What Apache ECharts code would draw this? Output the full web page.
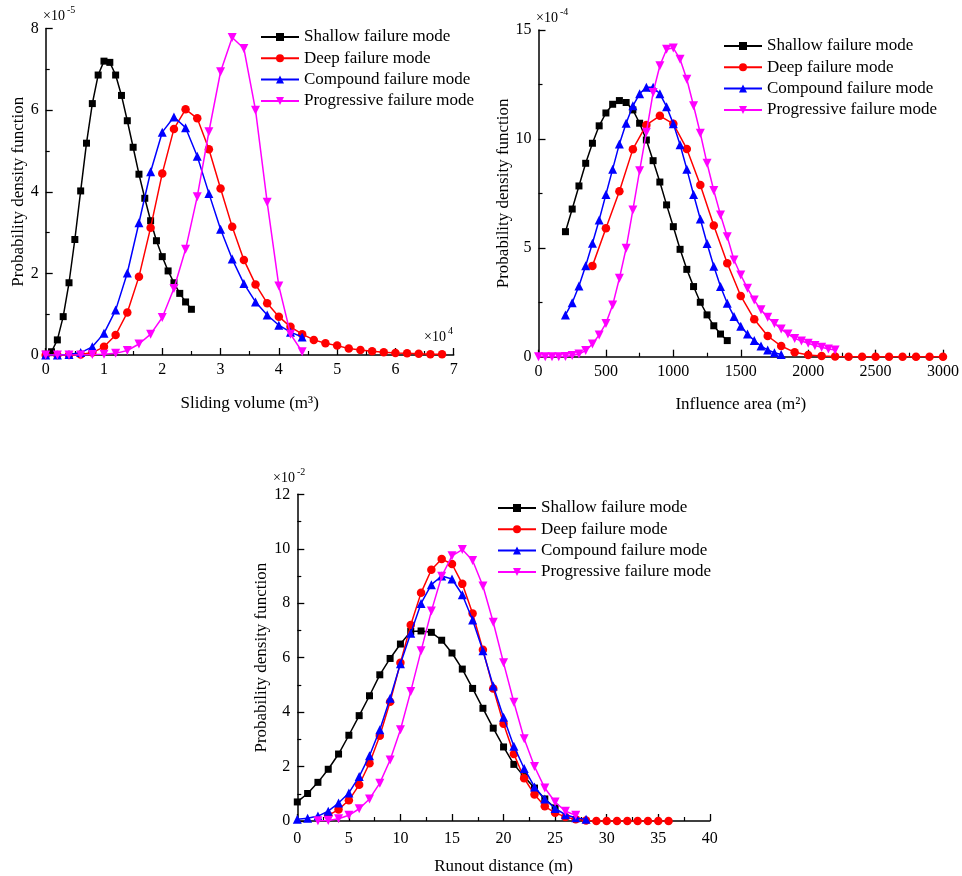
<!DOCTYPE html>
<html><head><meta charset="utf-8">
<script src="https://cdn.jsdelivr.net/npm/echarts@6/dist/echarts.min.js"></script>
<style>html,body{margin:0;padding:0;background:#fff}#c{width:962px;height:876px}</style>
</head><body><div id="c"></div>
<script>
// ---------- Names ----------
const seriesNames = ['Shallow failure mode','Deep failure mode','Compound failure mode','Progressive failure mode'];

// ---------- Plot 1: Sliding volume (x in 1e4 m3, y in 1e-5) ----------
const volXTicks = [0,1,2,3,4,5,6,7];
const volYTicks = [0,2,4,6,8];
const volShallowX = [0,0.1,0.2,0.3,0.4,0.5,0.6,0.7,0.8,0.9,1.0,1.1,1.2,1.3,1.4,1.5,1.6,1.7,1.8,1.9,2.0,2.1,2.2,2.3,2.4,2.5];
const volShallowY = [0.02,0.08,0.37,0.94,1.77,2.83,4.02,5.19,6.16,6.86,7.20,7.17,6.86,6.36,5.74,5.09,4.43,3.84,3.29,2.80,2.41,2.06,1.77,1.51,1.30,1.12];
const volDeepX = [0,0.2,0.4,0.6,0.8,1.0,1.2,1.4,1.6,1.8,2.0,2.2,2.4,2.6,2.8,3.0,3.2,3.4,3.6,3.8,4.0,4.2,4.4,4.6,4.8,5.0,5.2,5.4,5.6,5.8,6.0,6.2,6.4,6.6,6.8];
const volDeepY = [0,0,0,0.01,0.06,0.20,0.49,1.04,1.92,3.12,4.45,5.54,6.02,5.80,5.04,4.08,3.14,2.33,1.73,1.27,0.94,0.69,0.51,0.37,0.29,0.23,0.16,0.12,0.09,0.07,0.05,0.04,0.03,0.02,0.02];
const volCompX = [0,0.2,0.4,0.6,0.8,1.0,1.2,1.4,1.6,1.8,2.0,2.2,2.4,2.6,2.8,3.0,3.2,3.4,3.6,3.8,4.0,4.2,4.4];
const volCompY = [0,0,0.01,0.06,0.20,0.53,1.10,2.01,3.24,4.49,5.46,5.83,5.57,4.87,3.96,3.08,2.35,1.75,1.30,0.98,0.73,0.56,0.44];
const volProgX = [0,0.2,0.4,0.6,0.8,1.0,1.2,1.4,1.6,1.8,2.0,2.2,2.4,2.6,2.8,3.0,3.2,3.4,3.6,3.8,4.0,4.2,4.4];
const volProgY = [0,0,0,0,0.01,0.02,0.04,0.11,0.27,0.51,0.92,1.63,2.59,3.88,5.47,6.94,7.78,7.51,6.00,3.74,1.69,0.51,0.08];

// ---------- Plot 2: Influence area (x in m2, y in 1e-4) ----------
const areaXTicks = [0,500,1000,1500,2000,2500,3000];
const areaYTicks = [0,5,10,15];
const areaShallowX = [200,250,300,350,400,450,500,550,600,650,700,750,800,850,900,950,1000,1050,1100,1150,1200,1250,1300,1350,1400];
const areaShallowY = [5.74,6.78,7.84,8.88,9.80,10.60,11.19,11.59,11.76,11.67,11.33,10.72,9.95,9.00,8.02,6.97,5.97,4.93,4.01,3.22,2.50,1.92,1.42,1.04,0.74];
const areaDeepX = [400,500,600,700,800,900,1000,1100,1200,1300,1400,1500,1600,1700,1800,1900,2000,2100,2200,2300,2400,2500,2600,2700,2800,2900,3000];
const areaDeepY = [4.17,5.90,7.60,9.53,10.64,11.06,10.69,9.54,7.88,6.02,4.29,2.79,1.72,0.95,0.49,0.20,0.08,0.03,0.01,0,0,0,0,0,0,0,0];
const areaCompX = [200,250,300,350,400,450,500,550,600,650,700,750,800,850,900,950,1000,1050,1100,1150,1200,1250,1300,1350,1400,1450,1500,1550,1600,1650,1700,1750,1800];
const areaCompY = [1.92,2.48,3.25,4.18,5.21,6.28,7.45,8.61,9.77,10.72,11.52,12.07,12.37,12.37,12.07,11.48,10.69,9.73,8.61,7.45,6.32,5.20,4.15,3.22,2.45,1.85,1.40,1.04,0.74,0.49,0.31,0.18,0.10];
const areaProgX = [0,50,100,150,200,250,300,350,400,450,500,550,600,650,700,750,800,850,900,950,1000,1050,1100,1150,1200,1250,1300,1350,1400,1450,1500,1550,1600,1650,1700,1750,1800,1850,1900,1950,2000,2050,2100,2150,2200];
const areaProgY = [0,0,0,0,0.01,0.05,0.12,0.28,0.58,1.00,1.53,2.37,3.60,4.98,6.74,8.54,10.30,12.13,13.36,14.12,14.17,13.66,12.74,11.52,10.26,8.88,7.63,6.51,5.51,4.44,3.75,3.14,2.60,2.15,1.81,1.53,1.27,1.04,0.84,0.72,0.62,0.51,0.43,0.35,0.31];

// ---------- Plot 3: Runout distance (x in m, y in 1e-2) ----------
const runXTicks = [0,5,10,15,20,25,30,35,40];
const runYTicks = [0,2,4,6,8,10,12];
const runShallowX = [0,1,2,3,4,5,6,7,8,9,10,11,12,13,14,15,16,17,18,19,20,21,22,23,24,25];
const runShallowY = [0.70,1.01,1.42,1.90,2.46,3.15,3.87,4.60,5.37,5.97,6.50,6.96,6.98,6.93,6.64,6.17,5.58,4.87,4.14,3.41,2.72,2.08,1.63,1.21,0.81,0.48];
const runDeepX = [3,4,5,6,7,8,9,10,11,12,13,14,15,16,17,18,19,20,21,22,23,24,25,26,27,28,29,30,31,32,33,34,35,36];
const runDeepY = [0.21,0.42,0.76,1.33,2.12,3.13,4.38,5.81,7.20,8.38,9.23,9.62,9.44,8.71,7.62,6.29,4.87,3.57,2.46,1.57,0.97,0.54,0.30,0.15,0.06,0.02,0,0,0,0,0,0,0,0];
const runCompX = [0,1,2,3,4,5,6,7,8,9,10,11,12,13,14,15,16,17,18,19,20,21,22,23,24,25,26,27,28];
const runCompY = [0.06,0.10,0.18,0.36,0.66,1.03,1.63,2.40,3.35,4.51,5.78,6.90,7.99,8.68,9.00,8.89,8.31,7.38,6.25,4.96,3.81,2.75,1.93,1.25,0.81,0.46,0.23,0.12,0.06];
const runProgX = [2,3,4,5,6,7,8,9,10,11,12,13,14,15,16,17,18,19,20,21,22,23,24,25,26,27];
const runProgY = [0.01,0.02,0.08,0.21,0.45,0.81,1.39,2.24,3.35,4.76,6.25,7.71,8.99,9.74,9.97,9.57,8.63,7.30,5.81,4.36,3.02,2.00,1.21,0.70,0.36,0.21];

// ---------- Build ----------
const FONT = 'Liberation Serif';
const colors = ['#000000','#ff0000','#0000ff','#ff00ff'];
const symbols = ['rect','circle','triangle','path://M0,0 L10,0 L5,9 Z'];
const symSizes = [7,8.5,9,9];
const zip = (xs, ys) => xs.map((x,i)=>[x, ys[i]]);

function mkSeries(idx, gi, xs, ys){
  return {
    type:'line', name: seriesNames[idx], xAxisIndex: gi, yAxisIndex: gi,
    data: zip(xs, ys), symbol: symbols[idx], symbolSize: symSizes[idx],
    showAllSymbol: true, animation:false,
    lineStyle:{color: colors[idx], width:1.5},
    itemStyle:{color: colors[idx], borderWidth:0},
    z: 2+idx
  };
}
const axisBase = {
  axisLine:{lineStyle:{color:'#000', width:1.5}},
  axisTick:{inside:true, length:7, lineStyle:{color:'#000', width:1.3}},
  minorTick:{show:true, splitNumber:2, length:4, lineStyle:{color:'#000', width:1.2}},
  splitLine:{show:false},
  nameLocation:'middle',
  nameTextStyle:{fontFamily:FONT, fontSize:17, color:'#000'},
};
function xAx(gi, ticks, name, gap, labMargin){
  return Object.assign({}, axisBase, {
    type:'value', gridIndex: gi, min: ticks[0], max: ticks[ticks.length-1], interval: ticks[1]-ticks[0],
    name, nameGap: gap,
    axisLabel:{fontFamily:FONT, fontSize:16, color:'#000', margin: labMargin, formatter: v => String(v)}
  });
}
function yAx(gi, ticks, name, gap){
  return Object.assign({}, axisBase, {
    type:'value', gridIndex: gi, min: ticks[0], max: ticks[ticks.length-1], interval: ticks[1]-ticks[0],
    name, nameGap: gap,
    axisLabel:{fontFamily:FONT, fontSize:16, color:'#000', margin: 7, formatter: v => String(v)}
  });
}
function legend(left, top){
  return {
    left, top, orient:'vertical', itemWidth:38, itemHeight:10, itemGap:4.3,
    textStyle:{fontFamily:FONT, fontSize:17, color:'#000'},
    data: seriesNames, selectedMode:false
  };
}
function txt(left, top, text, size){
  return {type:'text', left, top, style:{text, font: size+'px "'+FONT+'"', fill:'#000'}};
}

const option = {
  animation:false,
  backgroundColor:'#fff',
  grid:[
    {left:45.7, top:28.5, width:408, height:326.5},
    {left:538.5, top:30, width:405.5, height:326.7},
    {left:297.3, top:494.3, width:412.5, height:330.7}
  ],
  xAxis:[
    xAx(0, volXTicks, 'Sliding volume (m³)', 40, 7),
    xAx(1, areaXTicks, 'Influence area (m²)', 39, 7),
    xAx(2, runXTicks, 'Runout distance (m)', 37, 10)
  ],
  yAxis:[
    yAx(0, volYTicks, 'Probability density function', 17),
    yAx(1, areaYTicks, 'Probability density function', 26),
    yAx(2, runYTicks, 'Probability density function', 27)
  ],
  legend:[ legend(255, 23.5), legend(718, 32.5), legend(492, 494.5) ],
  series:[
    mkSeries(0,0,volShallowX,volShallowY),
    mkSeries(1,0,volDeepX,volDeepY),
    mkSeries(2,0,volCompX,volCompY),
    mkSeries(3,0,volProgX,volProgY),
    mkSeries(0,1,areaShallowX,areaShallowY),
    mkSeries(1,1,areaDeepX,areaDeepY),
    mkSeries(2,1,areaCompX,areaCompY),
    mkSeries(3,1,areaProgX,areaProgY),
    mkSeries(0,2,runShallowX,runShallowY),
    mkSeries(1,2,runDeepX,runDeepY),
    mkSeries(2,2,runCompX,runCompY),
    mkSeries(3,2,runProgX,runProgY)
  ],
  graphic:[
    txt(43, 9, '×10', 14), txt(67, 5, '-5', 10),
    txt(536, 11, '×10', 14), txt(560, 7, '-4', 10),
    txt(273, 471, '×10', 14), txt(297, 467, '-2', 10),
    txt(424, 330, '×10', 14), txt(448, 326, '4', 10)
  ]
};
const chart = echarts.init(document.getElementById('c'), null, {renderer:'canvas'});
chart.setOption(option);
</script></body></html>
